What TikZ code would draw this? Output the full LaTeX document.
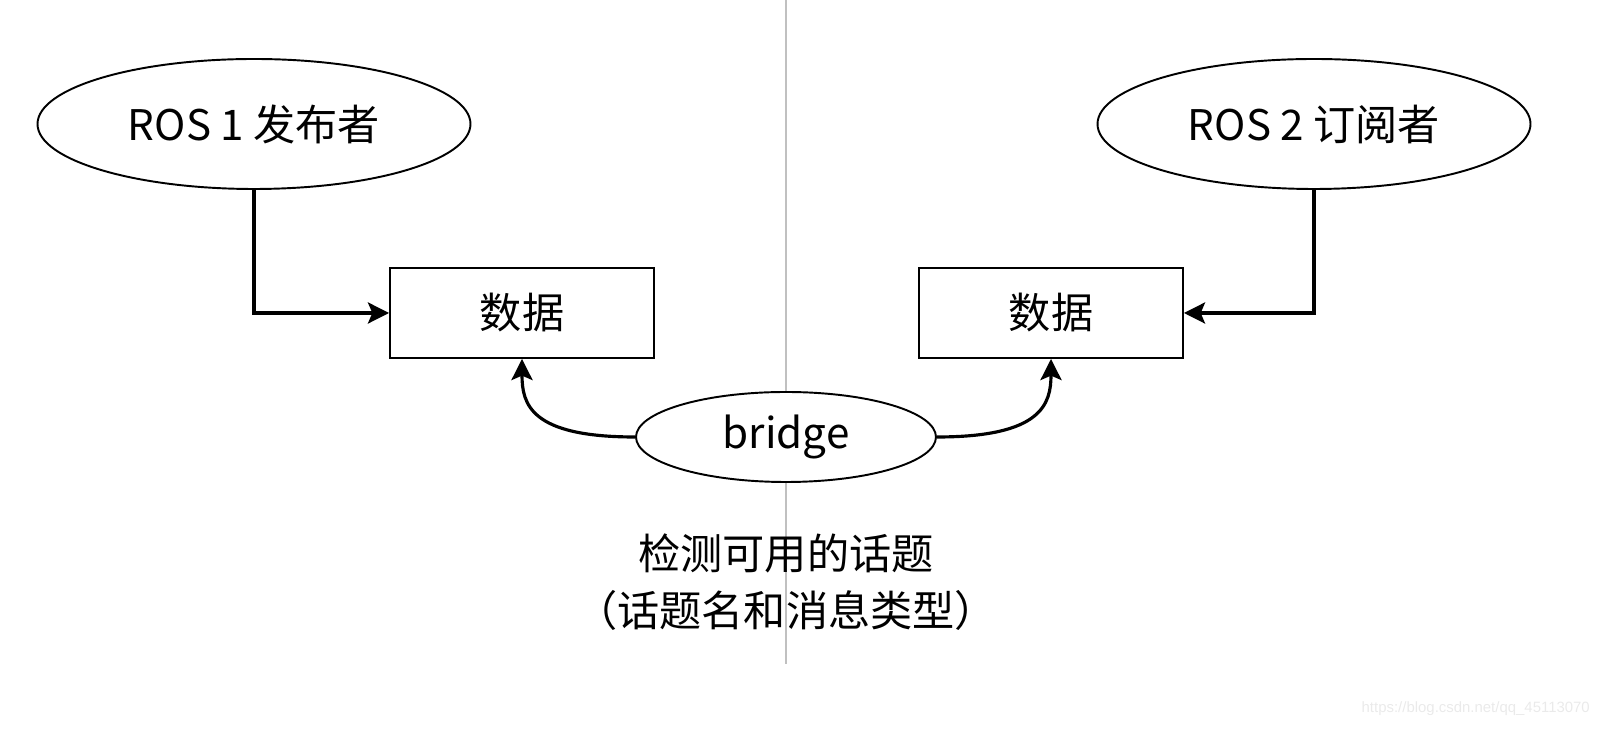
\documentclass[tikz,border=0pt]{standalone}
\usepackage{fontspec}
\newfontfamily\cjkfont{Noto Sans CJK SC}
\newfontfamily\markfont{Liberation Sans}
\usetikzlibrary{
  arrows.meta,
  positioning,
  shapes.geometric
}
\definecolor{DividerGray}{RGB}{192,192,192}
\definecolor{MarkGray}{RGB}{234,234,234}
\tikzset{
  rosnode/.style={draw=black,fill=white,ellipse,line width=1.1pt,minimum width=8.66cm,minimum height=2.6cm,inner sep=0pt,font=\cjkfont\fontsize{24}{30}\selectfont},
  bridgenode/.style={draw=black,fill=white,ellipse,line width=1.1pt,minimum width=6cm,minimum height=1.8cm,inner sep=0pt,font=\cjkfont\fontsize{24}{30}\selectfont},
  datanode/.style={draw=black,fill=white,rectangle,line width=1.1pt,minimum width=5.28cm,minimum height=1.8cm,inner sep=0pt,font=\cjkfont\fontsize{24}{30}\selectfont},
  notetext/.style={align=center,inner sep=0pt,font=\cjkfont\fontsize{24}{32.3}\selectfont},
  flowarrow/.style={-{Stealth[length=12pt,width=12pt,inset=2.5pt]},line width=1.8pt,draw=black},
  divider/.style={line width=1.1pt,draw=DividerGray}
}
\begin{document}
\begin{tikzpicture}
\useasboundingbox (0,0) rectangle (32.12,14.58);
\draw[divider] (15.72,14.58) -- (15.72,1.30);
\node[rosnode] (pub) at (5.08,12.10) {ROS 1 发布者};
\node[rosnode] (sub) at (26.28,12.10) {ROS 2 订阅者};
\node[datanode] (data1) at (10.44,8.32) {数据};
\node[datanode] (data2) at (21.02,8.32) {数据};
\node[bridgenode] (bridge) at (15.72,5.84) {bridge};
\node[notetext] (detect) at (15.72,2.93) {检测可用的话题\\（话题名和消息类型）};
\draw[flowarrow] (pub.south) |- (data1.west);
\draw[flowarrow] (sub.south) |- (data2.east);
\draw[flowarrow] (bridge.west) .. controls +(-2.1,0) and +(0,-0.9) .. (data1.south);
\draw[flowarrow] (bridge.east) .. controls +(2.1,0) and +(0,-0.9) .. (data2.south);
\node[anchor=east,text=MarkGray,font=\markfont\fontsize{8.5}{10}\selectfont] (mark) at (31.92,0.40) {https://blog.csdn.net/qq\_45113070};
\end{tikzpicture}
\end{document}
